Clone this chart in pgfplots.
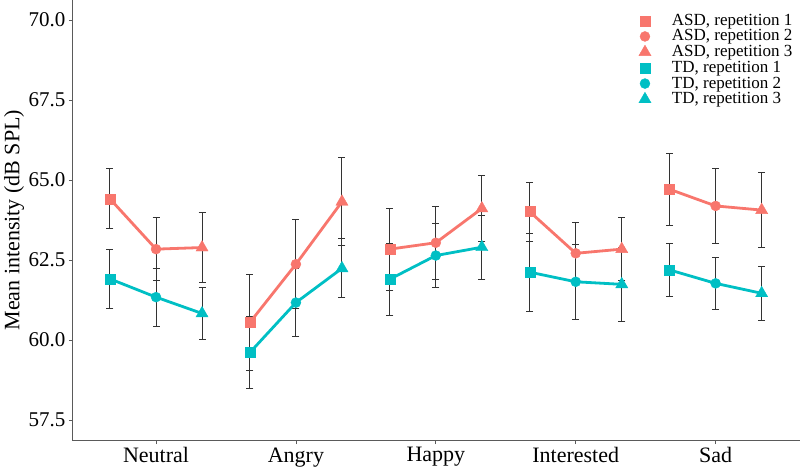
\documentclass[border=0pt]{standalone}
\usepackage{fontspec}
\setmainfont{Liberation Serif}
\usepackage{pgfplots}
\usepackage{pgfplotstable}
\pgfplotsset{compat=1.18}
\definecolor{asd}{HTML}{F8766D}
\definecolor{td}{HTML}{00BFC4}
\definecolor{errgray}{HTML}{333333}
\definecolor{axisgray}{HTML}{5A5A5A}

\pgfplotstableread{
x y e rep
0.671 64.41 0.94 r1
1.000 62.84 0.98 r2
1.329 62.89 1.08 r3
nan nan nan r0
1.671 60.55 1.50 r1
2.000 62.37 1.40 r2
2.329 64.32 1.38 r3
nan nan nan r0
2.671 62.84 1.28 r1
3.000 63.04 1.14 r2
3.329 64.11 1.04 r3
nan nan nan r0
3.671 64.01 0.92 r1
4.000 62.71 0.95 r2
4.329 62.84 0.98 r3
nan nan nan r0
4.671 64.71 1.13 r1
5.000 64.19 1.18 r2
5.329 64.06 1.16 r3
}\asdtab

\pgfplotstableread{
x y e rep
0.671 61.91 0.92 r1
1.000 61.34 0.91 r2
1.329 60.83 0.82 r3
nan nan nan r0
1.671 59.61 1.14 r1
2.000 61.17 1.06 r2
2.329 62.24 0.92 r3
nan nan nan r0
2.671 61.90 1.12 r1
3.000 62.64 1.00 r2
3.329 62.90 1.00 r3
nan nan nan r0
3.671 62.12 1.22 r1
4.000 61.82 1.17 r2
4.329 61.74 1.15 r3
nan nan nan r0
4.671 62.19 0.82 r1
5.000 61.77 0.82 r2
5.329 61.46 0.85 r3
}\tdtab

\begin{document}
\begin{tikzpicture}
\begin{axis}[
  name=ax,
  scale only axis,
  width=727.5pt, height=440.5pt,
  at={(0,0)}, anchor=south west,
  xmin=0.403, xmax=5.603,
  ymin=56.86, ymax=70.625,
  axis x line=bottom, axis y line=left,
  axis line style={-, color=axisgray, line width=1pt},
  tick align=outside,
  major tick length=3.5pt,
  tick style={color=axisgray, line width=0.8pt},
  xtick={1,2,3,4,5},
  xticklabels={Neutral,Angry,Happy,Interested,Sad},
  ytick={57.5,60,62.5,65,67.5,70},
  /pgf/number format/assume math mode=true,
  yticklabel style={/pgf/number format/.cd, fixed, fixed zerofill, precision=1},
  tick label style={font=\fontsize{21}{24}\selectfont, text=black},
  xticklabel style={font=\fontsize{22}{24}\selectfont},
  ylabel={Mean intensity (dB SPL)},
  every axis y label/.style={at={(axis description cs:0,0.5)}, xshift=-58.5pt, rotate=90, anchor=center, font=\fontsize{22}{24}\selectfont},
  clip=false,
  legend cell align=left,
  legend image code/.code={\path[draw=none, fill=none] (-8pt,-4pt) rectangle (8pt,4pt); \draw[#1] plot coordinates {(0pt,0pt)};},
  legend style={at={(rel axis cs:0.7759,0.9707)}, anchor=north west, draw=none, fill=none,
    inner sep=0pt, outer sep=0pt, row sep=0pt, column sep=19pt,
    nodes={inner sep=0pt, text height=12.3pt, text depth=3.4pt},
    font=\fontsize{17}{17}\selectfont},
]
% error bars
\addplot[only marks, mark=none, forget plot,
  error bars/.cd, y dir=both, y explicit,
  error bar style={line width=1pt, color=errgray},
  error mark options={rotate=90, mark size=3.5pt, line width=1pt, color=errgray}]
  table[x=x, y=y, y error=e] {\asdtab};
\addplot[only marks, mark=none, forget plot,
  error bars/.cd, y dir=both, y explicit,
  error bar style={line width=1pt, color=errgray},
  error mark options={rotate=90, mark size=3.5pt, line width=1pt, color=errgray}]
  table[x=x, y=y, y error=e] {\tdtab};
% lines
\addplot[asd, line width=2.8pt, mark=none, line join=round, unbounded coords=jump, forget plot]
  table[x=x, y=y] {\asdtab};
\addplot[td, line width=2.8pt, mark=none, line join=round, unbounded coords=jump, forget plot]
  table[x=x, y=y] {\tdtab};
% markers
\addplot[scatter, only marks, forget plot, scatter src=explicit symbolic,
  scatter/classes={
    r1={mark=square*, mark size=5pt, asd},
    r2={mark=*, mark size=5pt, asd},
    r3={mark=triangle*, mark size=7pt, asd},
    r0={mark=none}}]
  table[x=x, y=y, meta=rep] {\asdtab};
\addplot[scatter, only marks, forget plot, scatter src=explicit symbolic,
  scatter/classes={
    r1={mark=square*, mark size=5pt, td},
    r2={mark=*, mark size=5pt, td},
    r3={mark=triangle*, mark size=7pt, td},
    r0={mark=none}}]
  table[x=x, y=y, meta=rep] {\tdtab};
% legend
\addlegendimage{only marks, mark=square*, mark size=5pt, asd}
\addlegendentry{ASD, repetition 1}
\addlegendimage{only marks, mark=*, mark size=5pt, asd}
\addlegendentry{ASD, repetition 2}
\addlegendimage{only marks, mark=triangle*, mark size=7pt, asd}
\addlegendentry{ASD, repetition 3}
\addlegendimage{only marks, mark=square*, mark size=5pt, td}
\addlegendentry{TD, repetition 1}
\addlegendimage{only marks, mark=*, mark size=5pt, td}
\addlegendentry{TD, repetition 2}
\addlegendimage{only marks, mark=triangle*, mark size=7pt, td}
\addlegendentry{TD, repetition 3}
\end{axis}
\pgfresetboundingbox
\path[use as bounding box] (ax.south west) ++(-72.5pt,-26.5pt) rectangle ++(800pt,467pt);
\end{tikzpicture}
\end{document}
